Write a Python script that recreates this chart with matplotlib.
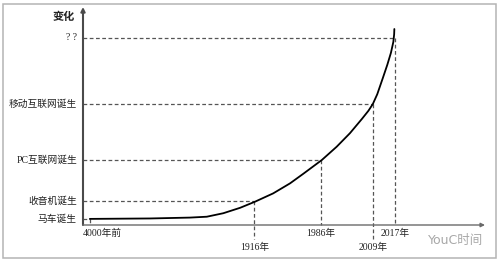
import matplotlib
matplotlib.use("Agg")
import matplotlib.pyplot as plt
from matplotlib.patches import Rectangle

# milestones: label on y axis, label under x axis, position on the schematic axes (0-100)
events = ["马车诞生", "收音机诞生", "PC互联网诞生", "移动互联网诞生", "? ?"]
event_years = ["4000年前", "1916年", "1986年", "2009年", "2017年"]
event_x = [1.7, 42.6, 59.1, 72.1, 77.6]
event_y = [2.8, 11.0, 29.8, 55.5, 85.8]

# the growth curve
curve_x = [1.7, 16.7, 26.6, 30.8, 34.9, 39.1, 42.8, 47.3, 51.5, 54.8, 59.4,
           63.1, 66.4, 69.4, 71.0, 72.1, 73.2, 74.6, 75.7, 76.6, 77.2, 77.4, 77.45]
curve_y = [2.8, 3.0, 3.4, 3.8, 5.4, 7.9, 10.7, 14.5, 19.1, 23.5, 29.8,
           35.9, 42.1, 48.7, 52.4, 55.5, 60.0, 67.5, 73.5, 79.0, 84.0, 87.5, 89.9]

fonts = ["Liberation Serif", "Noto Sans CJK SC", "DejaVu Sans"]
dash = (0, (3, 2))
grey = "#555555"

fig = plt.figure(figsize=(5, 2.62), dpi=100)
fig.patch.set_facecolor("white")
# outer frame
fig.patches.append(Rectangle((3 / 500, 4 / 262), 493 / 500, 254 / 262, transform=fig.transFigure,
                             fill=False, edgecolor="#b4b4b4", linewidth=1.1))

ax = fig.add_axes([83 / 500, 37 / 262, 402 / 500, 218 / 262])
ax.set_xlim(0, 100)
ax.set_ylim(0, 100)
ax.axis("off")

# axes with arrows
ax.annotate("", xy=(0, 1), xytext=(0, 0), xycoords="axes fraction",
            arrowprops=dict(arrowstyle="-|>", color="#4a4a4a", lw=1.5, mutation_scale=6, shrinkA=0, shrinkB=0))
ax.annotate("", xy=(1, 0), xytext=(0, 0), xycoords="axes fraction",
            arrowprops=dict(arrowstyle="-|>", color="#6a6a6a", lw=1.0, mutation_scale=6, shrinkA=0, shrinkB=0))

# guide lines
for i, (x, y) in enumerate(zip(event_x, event_y)):
    low = i % 2 == 1
    ax.plot([0, x], [y, y], color=grey, lw=0.9, ls=dash, clip_on=False)
    ax.plot([x, x], [y, -6.5 if low else 0], color=grey, lw=0.9, ls=dash, clip_on=False)
    ax.text(-1.5, y, events[i], ha="right", va="center", fontsize=7, color="#222222", family=fonts)
    if i == 0:
        ax.text(0, -3.7, event_years[i], ha="left", va="center", fontsize=7, color="#222222", family=fonts)
    else:
        ax.text(x, -10.1 if low else -3.7, event_years[i], ha="center", va="center",
                fontsize=7, color="#222222", family=fonts)

ax.plot(curve_x, curve_y, color="black", lw=1.3, clip_on=False,
        solid_capstyle="round", solid_joinstyle="round")

ax.text(-2, 95.4, "变化", ha="right", va="center", fontsize=8, fontweight="bold",
        color="#222222", family=fonts)

# watermark
ax.text(99.5, -7.3, "YouC时间", ha="right", va="center", fontsize=9, color="#a8a8a8",
        family=["DejaVu Sans", "Noto Sans CJK SC"])

fig.savefig("out.png", dpi=100, facecolor="white")
